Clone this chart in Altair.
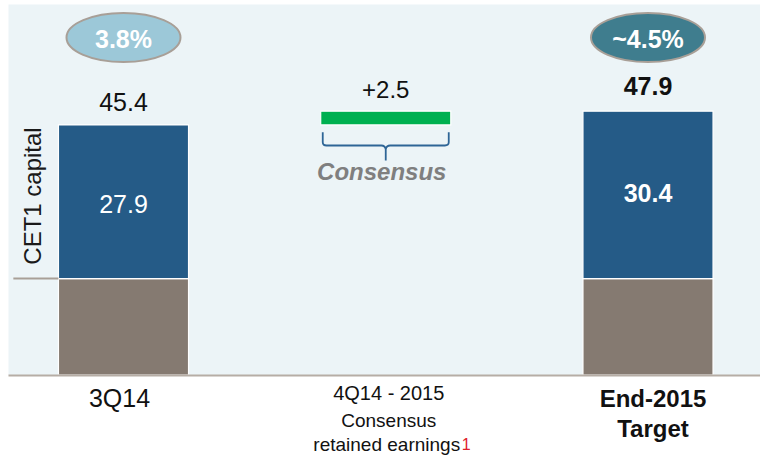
import altair as alt
import pandas as pd

# ---------------- data ----------------
categories = ["3Q14", "4Q14 - 2015", "End-2015"]
label_line2 = ["", "Consensus", "Target"]
label_line3 = ["", "retained earnings", ""]
footnote_mark = ["", "1", ""]
cet1_total = [45.4, None, 47.9]
cet1_core = [27.9, None, 30.4]
retained_earnings = [None, 2.5, None]
ratio_labels = ["3.8%", "", "~4.5%"]
change_labels = ["", "+2.5", ""]
brace_labels = ["", "Consensus", ""]
axis_label = "CET1  capital"

# ---------------- build tables ----------------
seg_rows = []
for i in range(len(categories)):
    if cet1_total[i] is not None:
        base = round(cet1_total[i] - cet1_core[i], 1)
        seg_rows.append({"idx": i, "part": "Other", "y0": 0.0, "y1": base})
        seg_rows.append({"idx": i, "part": "Core", "y0": base, "y1": cet1_total[i]})
start = cet1_total[0]
seg_rows.append({"idx": 1, "part": "Retained", "y0": start,
                 "y1": round(start + retained_earnings[1], 1)})
seg = pd.DataFrame(seg_rows)

info = pd.DataFrame({
    "idx": list(range(len(categories))),
    "cat": categories,
    "line2": label_line2,
    "line3": label_line3,
    "fn": footnote_mark,
    "total": [cet1_total[0], round(cet1_total[0] + retained_earnings[1], 1), cet1_total[2]],
    "core": [c if c is not None else 0 for c in cet1_core],
    "ratio": ratio_labels,
    "change": change_labels,
    "brace": brace_labels,
})
info["base"] = info["total"] - info["core"]
info["mid"] = info["total"] - info["core"] / 2

# ---------------- layout ----------------
W, H = 752, 371
FONT = "Liberation Sans"
HALF = 0.248
x_scale = alt.Scale(domain=[-0.4404, 2.4271], zero=False, nice=False)
y_scale = alt.Scale(domain=[0, 67.35], zero=False, nice=False)
xaxis = alt.Axis(labels=False, ticks=False, grid=False, title=None, domain=True,
                 domainColor="#B6ADA5", domainWidth=2, zindex=1)

def X(field):
    return alt.X(field, scale=x_scale, axis=xaxis)

def Y(field):
    return alt.Y(field, scale=y_scale, axis=None)

bars = alt.Chart(seg).transform_calculate(
    xa=f"datum.idx - {HALF}", xb=f"datum.idx + {HALF}"
).mark_bar(stroke="white", strokeWidth=1.2).encode(
    x=X("xa:Q"), x2="xb:Q",
    y=Y("y0:Q"), y2="y1:Q",
    color=alt.Color("part:N", legend=None,
                    scale=alt.Scale(domain=["Other", "Core", "Retained"],
                                    range=["#857A71", "#255B87", "#00B050"])),
)

info_c = alt.Chart(info)
left = info_c.transform_filter("datum.idx == 0")
mid = info_c.transform_filter("datum.idx == 1")
right = info_c.transform_filter("datum.idx == 2")

# bracket line for the CET1 capital label
bracket = left.transform_calculate(
    xa=f"datum.idx - {HALF}", xl=f"datum.idx - {HALF} - 0.172"
).mark_rule(color="#A89F97", strokeWidth=2).encode(
    x=X("xl:Q"), x2="xa:Q", y=Y("base:Q"))

cet1_text = left.mark_text(angle=270, align="center", baseline="alphabetic",
                           font=FONT, fontSize=24, color="#1A1A1A").encode(
    x=alt.value(33), y=alt.value(192), text=alt.value(axis_label))

ELLIPSE = ("M -1 0 C -1 -0.2375 -0.5523 -0.43 0 -0.43 C 0.5523 -0.43 1 -0.2375 1 0 "
           "C 1 0.2375 0.5523 0.43 0 0.43 C -0.5523 0.43 -1 0.2375 -1 0 Z")
ellipses = info_c.transform_filter("datum.ratio != ''").mark_point(
    shape=ELLIPSE, size=114 * 114, filled=True, opacity=1,
    stroke="#A89F97", strokeWidth=2).encode(
    x=X("idx:Q"), y=alt.value(33.5),
    fill=alt.Fill("ratio:N", legend=None,
                  scale=alt.Scale(domain=["3.8%", "~4.5%"], range=["#9CC8D8", "#3F7D8E"])),
)
ratio_text = info_c.transform_filter("datum.ratio != ''").mark_text(
    font=FONT, fontSize=25, fontWeight="bold", color="white", baseline="alphabetic").encode(
    x=X("idx:Q"), y=alt.value(44), text="ratio:N")

total_left = left.mark_text(font=FONT, fontSize=25, color="#111111",
                            baseline="alphabetic", dy=-14).encode(
    x=X("idx:Q"), y=Y("total:Q"), text=alt.Text("total:Q", format=".1f"))
total_right = right.mark_text(font=FONT, fontSize=25, fontWeight="bold", color="#111111",
                              baseline="alphabetic", dy=-16).encode(
    x=X("idx:Q"), y=Y("total:Q"), text=alt.Text("total:Q", format=".1f"))

core_left = left.mark_text(font=FONT, fontSize=25, color="white",
                           baseline="alphabetic", dy=11).encode(
    x=X("idx:Q"), y=Y("mid:Q"), text=alt.Text("core:Q", format=".1f"))
core_right = right.mark_text(font=FONT, fontSize=25, fontWeight="bold", color="white",
                             baseline="alphabetic", dy=7).encode(
    x=X("idx:Q"), y=Y("mid:Q"), text=alt.Text("core:Q", format=".1f"))

change_text = mid.mark_text(font=FONT, fontSize=24, color="#111111",
                            baseline="alphabetic", dy=-13).encode(
    x=X("idx:Q"), y=Y("total:Q"), text="change:N")

BRACE = ("M -1 -0.21 L -1 -0.05 Q -1 0 -0.94 0 L -0.07 0 Q -0.01 0 0 0.06 L 0 0.24 "
         "M 0 0.06 Q 0.01 0 0.07 0 L 0.94 0 Q 1 0 1 -0.05 L 1 -0.21")
brace = mid.mark_point(shape=BRACE, size=126 * 126, filled=False, opacity=1,
                       color="#2E6596", strokeWidth=1.8).encode(
    x=X("idx:Q"), y=alt.value(141.5))
brace_text = mid.mark_text(font=FONT, fontSize=24, fontWeight="bold", fontStyle="italic",
                           color="#7F7F7F", baseline="alphabetic", dx=-4).encode(
    x=X("idx:Q"), y=alt.value(176), text="brace:N")

# category labels below the axis
lab_left = left.mark_text(font=FONT, fontSize=25, color="#111111", baseline="alphabetic",
                          dx=-4).encode(x=X("idx:Q"), y=alt.value(403), text="cat:N")
lab_mid1 = mid.mark_text(font=FONT, fontSize=20, color="#111111", baseline="alphabetic",
                         dx=3).encode(x=X("idx:Q"), y=alt.value(396), text="cat:N")
lab_mid2 = mid.mark_text(font=FONT, fontSize=19, color="#111111", baseline="alphabetic",
                         dx=3).encode(x=X("idx:Q"), y=alt.value(423), text="line2:N")
lab_mid3 = mid.mark_text(font=FONT, fontSize=19, color="#111111", baseline="alphabetic",
                         dx=1).encode(x=X("idx:Q"), y=alt.value(447), text="line3:N")
lab_fn = mid.mark_text(font=FONT, fontSize=16, color="#E0202A", baseline="alphabetic",
                       align="left", dx=76).encode(x=X("idx:Q"), y=alt.value(446), text="fn:N")
lab_right1 = right.mark_text(font=FONT, fontSize=24, fontWeight="bold", color="#111111",
                             baseline="alphabetic", dx=5).encode(
    x=X("idx:Q"), y=alt.value(403), text="cat:N")
lab_right2 = right.mark_text(font=FONT, fontSize=24, fontWeight="bold", color="#111111",
                             baseline="alphabetic", dx=5).encode(
    x=X("idx:Q"), y=alt.value(433), text="line2:N")

chart = alt.layer(
    bars, bracket, cet1_text, ellipses, ratio_text, total_left, total_right,
    core_left, core_right, change_text, brace, brace_text,
    lab_left, lab_mid1, lab_mid2, lab_mid3, lab_fn, lab_right1, lab_right2,
).properties(
    width=W, height=H,
    padding={"left": 8, "top": 4, "right": 0, "bottom": 82},
    autosize=alt.AutoSizeParams(type="none"),
    background="white",
).configure_view(fill="#ECF4F7", stroke="transparent")

chart.save("out.html", embed_options={"renderer": "svg", "actions": False})
